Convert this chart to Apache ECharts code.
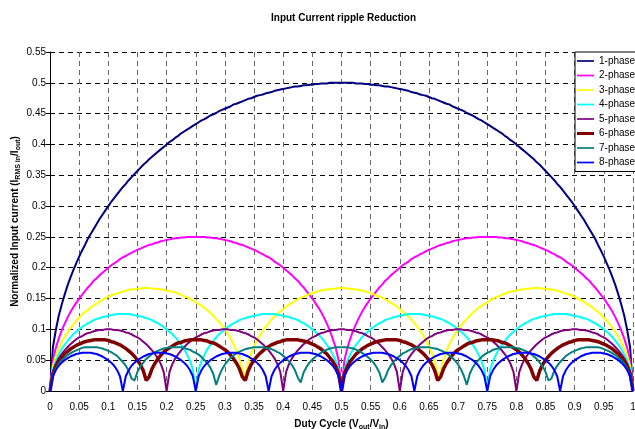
<!DOCTYPE html>
<html>
<head>
<meta charset="utf-8">
<script src="https://cdn.jsdelivr.net/npm/echarts@6/dist/echarts.min.js"></script>
<style>
  html, body { margin: 0; padding: 0; background: #fff; }
  #chart { width: 635px; height: 429px; }
</style>
</head>
<body>
<div id="chart"></div>
<script>
// Duty cycle sample points (Vout/Vin), 0 to 1 in steps of 0.005
const DUTY = [
  0,0.005,0.01,0.015,0.02,0.025,0.03,0.035,0.04,0.045,0.05,0.055,0.06,0.065,0.07,0.075,0.08,0.085,0.09,0.095,
  0.1,0.105,0.11,0.115,0.12,0.125,0.13,0.135,0.14,0.145,0.15,0.155,0.16,0.165,0.17,0.175,0.18,0.185,0.19,0.195,
  0.2,0.205,0.21,0.215,0.22,0.225,0.23,0.235,0.24,0.245,0.25,0.255,0.26,0.265,0.27,0.275,0.28,0.285,0.29,0.295,
  0.3,0.305,0.31,0.315,0.32,0.325,0.33,0.335,0.34,0.345,0.35,0.355,0.36,0.365,0.37,0.375,0.38,0.385,0.39,0.395,
  0.4,0.405,0.41,0.415,0.42,0.425,0.43,0.435,0.44,0.445,0.45,0.455,0.46,0.465,0.47,0.475,0.48,0.485,0.49,0.495,
  0.5,0.505,0.51,0.515,0.52,0.525,0.53,0.535,0.54,0.545,0.55,0.555,0.56,0.565,0.57,0.575,0.58,0.585,0.59,0.595,
  0.6,0.605,0.61,0.615,0.62,0.625,0.63,0.635,0.64,0.645,0.65,0.655,0.66,0.665,0.67,0.675,0.68,0.685,0.69,0.695,
  0.7,0.705,0.71,0.715,0.72,0.725,0.73,0.735,0.74,0.745,0.75,0.755,0.76,0.765,0.77,0.775,0.78,0.785,0.79,0.795,
  0.8,0.805,0.81,0.815,0.82,0.825,0.83,0.835,0.84,0.845,0.85,0.855,0.86,0.865,0.87,0.875,0.88,0.885,0.89,0.895,
  0.9,0.905,0.91,0.915,0.92,0.925,0.93,0.935,0.94,0.945,0.95,0.955,0.96,0.965,0.97,0.975,0.98,0.985,0.99,0.995,
  1
];

// Normalized input RMS ripple current (I_RMS,in / I_out) per phase count
const PHASE1 = [
  0,0.071,0.099,0.122,0.140,0.156,0.171,0.184,0.196,0.207,
  0.218,0.228,0.237,0.247,0.255,0.263,0.271,0.279,0.286,0.293,
  0.300,0.307,0.313,0.319,0.325,0.331,0.336,0.342,0.347,0.352,
  0.357,0.362,0.367,0.371,0.376,0.380,0.384,0.388,0.392,0.396,
  0.400,0.404,0.407,0.411,0.414,0.418,0.421,0.424,0.427,0.430,
  0.433,0.436,0.439,0.441,0.444,0.447,0.449,0.451,0.454,0.456,
  0.458,0.460,0.462,0.465,0.466,0.468,0.470,0.472,0.474,0.475,
  0.477,0.479,0.480,0.481,0.483,0.484,0.485,0.487,0.488,0.489,
  0.490,0.491,0.492,0.493,0.494,0.494,0.495,0.496,0.496,0.497,
  0.497,0.498,0.498,0.499,0.499,0.499,0.500,0.500,0.500,0.500,
  0.500,
  0.500,0.500,0.500,0.500,0.499,0.499,0.499,0.498,0.498,0.497,
  0.497,0.496,0.496,0.495,0.494,0.494,0.493,0.492,0.491,0.490,
  0.489,0.488,0.487,0.485,0.484,0.483,0.481,0.480,0.479,0.477,
  0.475,0.474,0.472,0.470,0.468,0.466,0.465,0.462,0.460,0.458,
  0.456,0.454,0.451,0.449,0.447,0.444,0.441,0.439,0.436,0.433,
  0.430,0.427,0.424,0.421,0.418,0.414,0.411,0.407,0.404,0.400,
  0.396,0.392,0.388,0.384,0.380,0.376,0.371,0.367,0.362,0.357,
  0.352,0.347,0.342,0.336,0.331,0.325,0.319,0.313,0.307,0.300,
  0.293,0.286,0.279,0.271,0.263,0.255,0.247,0.237,0.228,0.218,
  0.207,0.196,0.184,0.171,0.156,0.140,0.122,0.099,0.071,0
];

const PHASE2 = [
  0,0.050,0.070,0.085,0.098,0.109,0.119,0.128,0.136,0.143,
  0.150,0.156,0.162,0.168,0.173,0.179,0.183,0.188,0.192,0.196,
  0.200,0.204,0.207,0.210,0.214,0.217,0.219,0.222,0.224,0.227,
  0.229,0.231,0.233,0.235,0.237,0.238,0.240,0.241,0.243,0.244,
  0.245,0.246,0.247,0.248,0.248,0.249,0.249,0.250,0.250,0.250,
  0.250,
  0.250,0.250,0.250,0.249,0.249,0.248,0.248,0.247,0.246,0.245,
  0.244,0.243,0.241,0.240,0.238,0.237,0.235,0.233,0.231,0.229,
  0.227,0.224,0.222,0.219,0.217,0.214,0.210,0.207,0.204,0.200,
  0.196,0.192,0.188,0.183,0.179,0.173,0.168,0.162,0.156,0.150,
  0.143,0.136,0.128,0.119,0.109,0.098,0.085,0.070,0.050,0,
  0.050,0.070,0.085,0.098,0.109,0.119,0.128,0.136,0.143,0.150,
  0.156,0.162,0.168,0.173,0.179,0.183,0.188,0.192,0.196,0.200,
  0.204,0.207,0.210,0.214,0.217,0.219,0.222,0.224,0.227,0.229,
  0.231,0.233,0.235,0.237,0.238,0.240,0.241,0.243,0.244,0.245,
  0.246,0.247,0.248,0.248,0.249,0.249,0.250,0.250,0.250,0.250,
  0.250,0.250,0.250,0.249,0.249,0.248,0.248,0.247,0.246,0.245,
  0.244,0.243,0.241,0.240,0.238,0.237,0.235,0.233,0.231,0.229,
  0.227,0.224,0.222,0.219,0.217,0.214,0.210,0.207,0.204,0.200,
  0.196,0.192,0.188,0.183,0.179,0.173,0.168,0.162,0.156,0.150,
  0.143,0.136,0.128,0.119,0.109,0.098,0.085,0.070,0.050,0
];

const PHASE3 = [
  0,0.041,0.057,0.069,0.079,0.088,0.095,0.102,0.108,0.114,
  0.119,0.124,0.128,0.132,0.136,0.139,0.142,0.145,0.148,0.150,
  0.153,0.155,0.157,0.158,0.160,0.161,0.163,0.164,0.165,0.165,
  0.166,0.166,0.167,0.167,0.167,0.166,0.166,0.166,0.165,0.164,
  0.163,0.162,0.161,0.160,0.158,0.156,0.154,0.152,0.150,0.147,
  0.144,0.141,0.138,0.135,0.131,0.127,0.122,0.117,0.112,0.106,
  0.100,0.093,0.085,0.076,0.065,0.052,0.033,0.024,0.047,0.061,
  0.073,0.082,0.090,0.098,0.104,0.110,0.116,0.121,0.125,0.129,
  0.133,0.137,0.140,0.143,0.146,0.149,0.151,0.153,0.155,0.157,
  0.159,0.160,0.162,0.163,0.164,0.165,0.165,0.166,0.166,0.167,
  0.167,
  0.167,0.166,0.166,0.165,0.165,0.164,0.163,0.162,0.160,0.159,
  0.157,0.155,0.153,0.151,0.149,0.146,0.143,0.140,0.137,0.133,
  0.129,0.125,0.121,0.116,0.110,0.104,0.098,0.090,0.082,0.073,
  0.061,0.047,0.024,0.033,0.052,0.065,0.076,0.085,0.093,0.100,
  0.106,0.112,0.117,0.122,0.127,0.131,0.135,0.138,0.141,0.144,
  0.147,0.150,0.152,0.154,0.156,0.158,0.160,0.161,0.162,0.163,
  0.164,0.165,0.166,0.166,0.166,0.167,0.167,0.167,0.166,0.166,
  0.165,0.165,0.164,0.163,0.161,0.160,0.158,0.157,0.155,0.153,
  0.150,0.148,0.145,0.142,0.139,0.136,0.132,0.128,0.124,0.119,
  0.114,0.108,0.102,0.095,0.088,0.079,0.069,0.057,0.041,0
];

const PHASE4 = [
  0,
  0.035,0.049,0.059,0.068,0.075,0.081,0.087,0.092,0.096,0.100,0.104,0.107,0.110,0.112,0.115,0.117,0.118,0.120,0.121,0.122,0.123,0.124,0.125,0.125,0.125,
  0.125,0.125,0.124,0.123,0.122,0.121,0.120,0.118,0.117,0.115,0.112,0.110,0.107,0.104,0.100,0.096,0.092,0.087,0.081,0.075,0.068,0.059,0.049,0.035,0,
  0.035,0.049,0.059,0.068,0.075,0.081,0.087,0.092,0.096,0.100,0.104,0.107,0.110,0.112,0.115,0.117,0.118,0.120,0.121,0.122,0.123,0.124,0.125,0.125,0.125,
  0.125,0.125,0.124,0.123,0.122,0.121,0.120,0.118,0.117,0.115,0.112,0.110,0.107,0.104,0.100,0.096,0.092,0.087,0.081,0.075,0.068,0.059,0.049,0.035,0,
  0.035,0.049,0.059,0.068,0.075,0.081,0.087,0.092,0.096,0.100,0.104,0.107,0.110,0.112,0.115,0.117,0.118,0.120,0.121,0.122,0.123,0.124,0.125,0.125,0.125,
  0.125,0.125,0.124,0.123,0.122,0.121,0.120,0.118,0.117,0.115,0.112,0.110,0.107,0.104,0.100,0.096,0.092,0.087,0.081,0.075,0.068,0.059,0.049,0.035,0,
  0.035,0.049,0.059,0.068,0.075,0.081,0.087,0.092,0.096,0.100,0.104,0.107,0.110,0.112,0.115,0.117,0.118,0.120,0.121,0.122,0.123,0.124,0.125,0.125,0.125,
  0.125,0.125,0.124,0.123,0.122,0.121,0.120,0.118,0.117,0.115,0.112,0.110,0.107,0.104,0.100,0.096,0.092,0.087,0.081,0.075,0.068,0.059,0.049,0.035,0
];

const PHASE5 = [
  0,
  0.031,0.044,0.053,0.060,0.066,0.071,0.076,0.080,0.084,0.087,0.089,0.092,0.094,0.095,0.097,0.098,0.099,0.099,0.100,0.100,
  0.100,0.099,0.099,0.098,0.097,0.095,0.094,0.092,0.089,0.087,0.084,0.080,0.076,0.071,0.066,0.060,0.053,0.044,0.031,0,
  0.031,0.044,0.053,0.060,0.066,0.071,0.076,0.080,0.084,0.087,0.089,0.092,0.094,0.095,0.097,0.098,0.099,0.099,0.100,0.100,
  0.100,0.099,0.099,0.098,0.097,0.095,0.094,0.092,0.089,0.087,0.084,0.080,0.076,0.071,0.066,0.060,0.053,0.044,0.031,0,
  0.031,0.044,0.053,0.060,0.066,0.071,0.076,0.080,0.084,0.087,0.089,0.092,0.094,0.095,0.097,0.098,0.099,0.099,0.100,0.100,
  0.100,0.099,0.099,0.098,0.097,0.095,0.094,0.092,0.089,0.087,0.084,0.080,0.076,0.071,0.066,0.060,0.053,0.044,0.031,0,
  0.031,0.044,0.053,0.060,0.066,0.071,0.076,0.080,0.084,0.087,0.089,0.092,0.094,0.095,0.097,0.098,0.099,0.099,0.100,0.100,
  0.100,0.099,0.099,0.098,0.097,0.095,0.094,0.092,0.089,0.087,0.084,0.080,0.076,0.071,0.066,0.060,0.053,0.044,0.031,0,
  0.031,0.044,0.053,0.060,0.066,0.071,0.076,0.080,0.084,0.087,0.089,0.092,0.094,0.095,0.097,0.098,0.099,0.099,0.100,0.100,
  0.100,0.099,0.099,0.098,0.097,0.095,0.094,0.092,0.089,0.087,0.084,0.080,0.076,0.071,0.066,0.060,0.053,0.044,0.031,0
];

const PHASE6 = [
  0,0.028,0.040,0.048,0.054,0.060,0.064,0.068,0.071,0.074,
  0.076,0.078,0.080,0.081,0.082,0.083,0.083,0.083,0.083,0.083,
  0.082,0.080,0.079,0.077,0.075,0.072,0.069,0.065,0.061,0.056,
  0.050,0.043,0.033,0.017,0.023,0.036,0.045,0.052,0.058,0.063,
  0.067,0.070,0.073,0.076,0.078,0.079,0.081,0.082,0.083,0.083,
  0.083,0.083,0.083,0.082,0.081,0.079,0.078,0.076,0.073,0.070,
  0.067,0.063,0.058,0.052,0.045,0.036,0.023,0.017,0.033,0.043,
  0.050,0.056,0.061,0.065,0.069,0.072,0.075,0.077,0.079,0.080,
  0.082,0.083,0.083,0.083,0.083,0.083,0.082,0.081,0.080,0.078,
  0.076,0.074,0.071,0.068,0.064,0.060,0.054,0.048,0.040,0.028,
  0,
  0.028,0.040,0.048,0.054,0.060,0.064,0.068,0.071,0.074,0.076,
  0.078,0.080,0.081,0.082,0.083,0.083,0.083,0.083,0.083,0.082,
  0.080,0.079,0.077,0.075,0.072,0.069,0.065,0.061,0.056,0.050,
  0.043,0.033,0.017,0.023,0.036,0.045,0.052,0.058,0.063,0.067,
  0.070,0.073,0.076,0.078,0.079,0.081,0.082,0.083,0.083,0.083,
  0.083,0.083,0.082,0.081,0.079,0.078,0.076,0.073,0.070,0.067,
  0.063,0.058,0.052,0.045,0.036,0.023,0.017,0.033,0.043,0.050,
  0.056,0.061,0.065,0.069,0.072,0.075,0.077,0.079,0.080,0.082,
  0.083,0.083,0.083,0.083,0.083,0.082,0.081,0.080,0.078,0.076,
  0.074,0.071,0.068,0.064,0.060,0.054,0.048,0.040,0.028,0
];

const PHASE7 = [
  0,0.026,0.036,0.044,0.050,0.054,0.058,0.061,0.064,0.066,
  0.068,0.070,0.071,0.071,0.071,0.071,0.071,0.070,0.069,0.067,
  0.065,0.063,0.060,0.057,0.052,0.047,0.041,0.033,0.020,0.017,
  0.031,0.040,0.046,0.052,0.056,0.060,0.063,0.065,0.067,0.069,
  0.070,0.071,0.071,0.071,0.071,0.071,0.070,0.068,0.067,0.064,
  0.062,0.059,0.055,0.050,0.045,0.038,0.028,0.010,0.024,0.035,
  0.043,0.049,0.054,0.058,0.061,0.064,0.066,0.068,0.069,0.070,
  0.071,0.071,0.071,0.071,0.070,0.069,0.068,0.066,0.063,0.061,
  0.057,0.053,0.048,0.042,0.034,0.022,0.014,0.030,0.039,0.046,
  0.051,0.055,0.059,0.062,0.065,0.067,0.069,0.070,0.071,0.071,
  0.071,
  0.071,0.071,0.070,0.069,0.067,0.065,0.062,0.059,0.055,0.051,
  0.046,0.039,0.030,0.014,0.022,0.034,0.042,0.048,0.053,0.057,
  0.061,0.063,0.066,0.068,0.069,0.070,0.071,0.071,0.071,0.071,
  0.070,0.069,0.068,0.066,0.064,0.061,0.058,0.054,0.049,0.043,
  0.035,0.024,0.010,0.028,0.038,0.045,0.050,0.055,0.059,0.062,
  0.064,0.067,0.068,0.070,0.071,0.071,0.071,0.071,0.071,0.070,
  0.069,0.067,0.065,0.063,0.060,0.056,0.052,0.046,0.040,0.031,
  0.017,0.020,0.033,0.041,0.047,0.052,0.057,0.060,0.063,0.065,
  0.067,0.069,0.070,0.071,0.071,0.071,0.071,0.071,0.070,0.068,
  0.066,0.064,0.061,0.058,0.054,0.050,0.044,0.036,0.026,0
];

const PHASE8 = [
  0,
  0.024,0.034,0.041,0.046,0.050,0.053,0.056,0.058,0.060,0.061,0.062,0.062,0.062,0.062,0.061,0.060,0.058,0.056,0.053,0.050,0.046,0.041,0.034,0.024,0,
  0.024,0.034,0.041,0.046,0.050,0.053,0.056,0.058,0.060,0.061,0.062,0.062,0.062,0.062,0.061,0.060,0.058,0.056,0.053,0.050,0.046,0.041,0.034,0.024,0,
  0.024,0.034,0.041,0.046,0.050,0.053,0.056,0.058,0.060,0.061,0.062,0.062,0.062,0.062,0.061,0.060,0.058,0.056,0.053,0.050,0.046,0.041,0.034,0.024,0,
  0.024,0.034,0.041,0.046,0.050,0.053,0.056,0.058,0.060,0.061,0.062,0.062,0.062,0.062,0.061,0.060,0.058,0.056,0.053,0.050,0.046,0.041,0.034,0.024,0,
  0.024,0.034,0.041,0.046,0.050,0.053,0.056,0.058,0.060,0.061,0.062,0.062,0.062,0.062,0.061,0.060,0.058,0.056,0.053,0.050,0.046,0.041,0.034,0.024,0,
  0.024,0.034,0.041,0.046,0.050,0.053,0.056,0.058,0.060,0.061,0.062,0.062,0.062,0.062,0.061,0.060,0.058,0.056,0.053,0.050,0.046,0.041,0.034,0.024,0,
  0.024,0.034,0.041,0.046,0.050,0.053,0.056,0.058,0.060,0.061,0.062,0.062,0.062,0.062,0.061,0.060,0.058,0.056,0.053,0.050,0.046,0.041,0.034,0.024,0,
  0.024,0.034,0.041,0.046,0.050,0.053,0.056,0.058,0.060,0.061,0.062,0.062,0.062,0.062,0.061,0.060,0.058,0.056,0.053,0.050,0.046,0.041,0.034,0.024,0
];

const SERIES_NAMES = ['1-phase','2-phase','3-phase','4-phase','5-phase','6-phase','7-phase','8-phase'];
const SERIES_VALUES = [PHASE1, PHASE2, PHASE3, PHASE4, PHASE5, PHASE6, PHASE7, PHASE8];
const SERIES_COLORS = ['#000080','#FF00FF','#FFFF00','#00FFFF','#800080','#800000','#008080','#0000FF'];
const SERIES_WIDTHS = [2, 2, 2, 2, 2, 3.5, 2, 2];

const FONT = '"Liberation Sans", Arial, sans-serif';

// Legend swatch: a horizontal bar inside a 20x10 box (the leading moves fix the box),
// so the bar keeps the thickness of the series line.
function lineIcon(w) {
  const y0 = 5 - w / 2, y1 = 5 + w / 2;
  return 'path://M0,0M20,10M0,' + y0 + 'L20,' + y0 + 'L20,' + y1 + 'L0,' + y1 + 'Z';
}

const chart = echarts.init(document.getElementById('chart'), null, { renderer: 'canvas' });

const series = SERIES_NAMES.map((name, s) => ({
  name,
  type: 'line',
  symbol: 'none',
  showSymbol: false,
  smooth: false,
  color: SERIES_COLORS[s],
  lineStyle: { width: SERIES_WIDTHS[s], color: SERIES_COLORS[s] },
  data: DUTY.map((d, i) => [d, SERIES_VALUES[s][i]])
}));

const subStyle = { fontSize: 7, fontWeight: 'bold', fontFamily: FONT, color: '#000', lineHeight: 8, verticalAlign: 'bottom' };

chart.setOption({
  animation: false,
  backgroundColor: '#fff',
  title: {
    text: 'Input Current ripple Reduction',
    left: 271,
    top: 13,
    padding: 0,
    textStyle: { fontFamily: FONT, fontSize: 10, fontWeight: 'bold', color: '#000' }
  },
  grid: { left: 50, right: 2, top: 52, bottom: 38, containLabel: false, outerBoundsMode: 'none' },
  legend: {
    orient: 'vertical',
    left: 575,
    top: 52,
    padding: [3, 2, 3, 2],
    itemGap: 2.5,
    itemWidth: 17,
    itemHeight: 10,
    backgroundColor: '#fff',
    borderColor: '#000',
    borderWidth: 1,
    borderRadius: 0,
    textStyle: { fontFamily: FONT, fontSize: 10, color: '#000', lineHeight: 12 },
    data: SERIES_NAMES.map((name, s) => ({ name, icon: lineIcon(SERIES_WIDTHS[s] === 2 ? 2 : 3.5) }))
  },
  xAxis: {
    type: 'value',
    min: 0,
    max: 1,
    interval: 0.05,
    name: 'Duty Cycle (V{s|out}/V{s|in})',
    nameLocation: 'middle',
    nameGap: 26,
    nameMoveOverlap: false,
    nameTextStyle: {
      fontFamily: FONT, fontSize: 10, fontWeight: 'bold', color: '#000', lineHeight: 14,
      rich: { s: subStyle }
    },
    axisLine: { show: true, onZero: false, lineStyle: { color: '#000', width: 1 } },
    axisTick: { show: false },
    axisLabel: { fontFamily: FONT, fontSize: 10, color: '#000', margin: 11 },
    splitLine: { show: true, lineStyle: { color: '#666', width: 1, type: [5, 4] } }
  },
  yAxis: {
    type: 'value',
    min: 0,
    max: 0.55,
    interval: 0.05,
    name: 'Normalized Input current (I{s|RMS in}/I{s|out})',
    nameLocation: 'middle',
    nameGap: 28,
    nameMoveOverlap: false,
    nameTextStyle: {
      fontFamily: FONT, fontSize: 10, fontWeight: 'bold', color: '#000', lineHeight: 14,
      rich: { s: subStyle }
    },
    axisLine: { show: true, lineStyle: { color: '#000', width: 1 } },
    axisTick: { show: true, length: 4, lineStyle: { color: '#000' } },
    axisLabel: { fontFamily: FONT, fontSize: 10, color: '#000', margin: 4 },
    splitLine: { show: true, lineStyle: { color: '#000', width: 1, type: [5, 4] } }
  },
  series
});
</script>
</body>
</html>
